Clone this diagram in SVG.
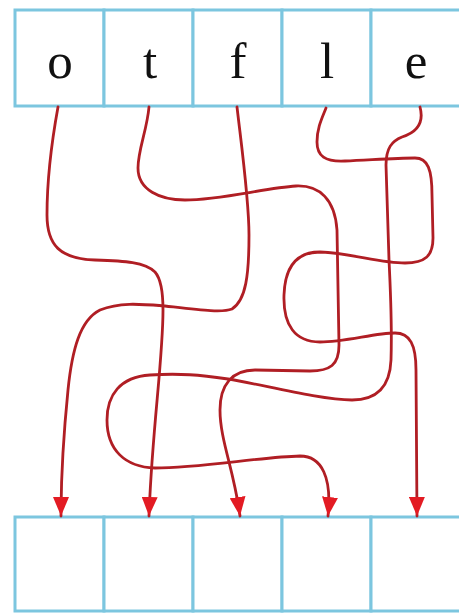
<svg xmlns="http://www.w3.org/2000/svg" width="459" height="613" viewBox="0 0 459 613">
<style>
.cell{fill:#ffffff;stroke:#7cc6df;stroke-width:3}
.lbl{font-family:"Liberation Serif","Times New Roman",serif;font-size:51px;fill:#111;text-anchor:middle}
.wire{fill:none;stroke:#b01e24;stroke-width:2.8;stroke-linecap:round;marker-end:url(#arr)}
</style>
<defs>
<marker id="arr" markerUnits="userSpaceOnUse" markerWidth="20" markerHeight="16" refX="19" refY="8" orient="auto" viewBox="0 0 20 16">
<path d="M0,0 L19,8 L0,16 z" fill="#e31b23"/>
</marker>
</defs>
<rect width="459" height="613" fill="#ffffff"/>
<g id="top">
<g id="top-o"><rect class="cell" x="15" y="10" width="89" height="96"/><text class="lbl" x="60" y="78">o</text></g>
<g id="top-t"><rect class="cell" x="104" y="10" width="89" height="96"/><text class="lbl" x="150" y="78">t</text></g>
<g id="top-f"><rect class="cell" x="193" y="10" width="89" height="96"/><text class="lbl" x="238" y="78">f</text></g>
<g id="top-l"><rect class="cell" x="282" y="10" width="89" height="96"/><text class="lbl" x="327" y="78">l</text></g>
<g id="top-e"><rect class="cell" x="371" y="10" width="90" height="96"/><text class="lbl" x="416" y="78">e</text></g>
</g>
<g id="bottom">
<g id="bot-1"><rect class="cell" x="15" y="517" width="89" height="94"/></g>
<g id="bot-2"><rect class="cell" x="104" y="517" width="89" height="94"/></g>
<g id="bot-3"><rect class="cell" x="193" y="517" width="89" height="94"/></g>
<g id="bot-4"><rect class="cell" x="282" y="517" width="89" height="94"/></g>
<g id="bot-5"><rect class="cell" x="371" y="517" width="90" height="94"/></g>
</g>
<g id="connectors">
<path class="wire" d="M58,107 C52,140 47,180 47,215 C47,245 60,259 95,260 C125,261 145,262 155,272 C162,280 163,295 163,310 C163,360 152,430 149,516"/>
<path class="wire" d="M149,107 C147,130 138,150 138,168 C138,190 160,200 185,200 C220,200 265,188 296,186 C320,185 335,200 337,230 L339,345 C339,365 330,371 310,371 L255,370 C232,370 220,385 220,410 C220,440 234,470 240,516"/>
<path class="wire" d="M237,107 C242,150 249,200 249,235 C249,275 246,300 232,309 C222,313 200,310 165,306 C140,304 120,302 100,310 C80,320 72,350 68,390 C64,430 61,470 61,516"/>
<path class="wire" d="M326,108 C322,118 317,128 317,142 C317,156 325,162 345,161 C370,160 395,158 415,158 C428,158 432,170 432,195 L433,238 C433,256 425,263 405,263 C380,263 350,253 320,252 C298,252 285,265 284,295 C283,325 295,342 320,342 C345,342 375,333 395,333 C410,333 416,345 416,370 L417,516"/>
<path class="wire" d="M420,107 C424,122 418,132 402,137 C392,141 386,148 386,165 L389,260 C391,300 392,330 391,360 C390,385 378,400 352,400 C320,400 260,384 228,379 C200,375 180,373 150,375 C120,377 107,395 107,420 C107,450 125,467 155,468 C200,468 260,457 300,456 C322,456 332,478 328,516"/>
</g>
</svg>
